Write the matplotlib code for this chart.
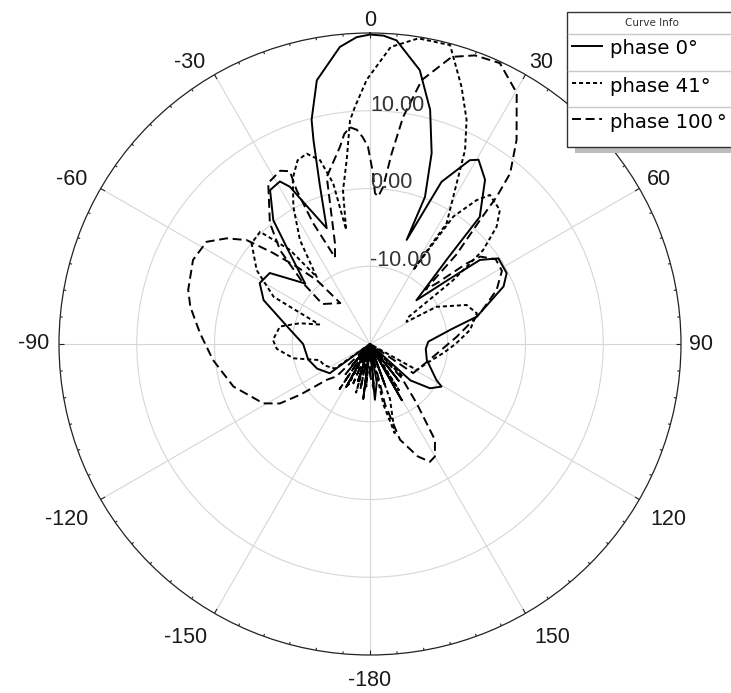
import numpy as np
import matplotlib
matplotlib.use('Agg')
import matplotlib.pyplot as plt
from matplotlib.lines import Line2D
from matplotlib.patches import Rectangle

# Radiation pattern: angle (deg, clockwise from top), gain (dB)
theta_p0 = [-180, -173, -168, -162, -157, -151, -146, -140, -134, -126, -115, -104,
            -90, -78, -67.6, -61.1, -54.7, -51.5, -47, -41.3, -38, -33, -29, -27,
            -24.4, -20.5, -17.5, -15.5, -14.6, -11.4, -5.8, -2.5, 0, 2.5, 5, 10.3, 14.4,
            17.9, 20.5, 19.4, 23.8, 28.5, 30.5, 35, 40.8, 42.2, 46.7, 50.6, 52.6, 56.3,
            62.6, 66.7, 75.6, 79.6, 87.7, 95, 105.8, 118.4, 120.8, 126.4, 132, 137,
            142, 146, 150.5, 155, 160, 165, 170, 175, 180]
gain_p0 = [-20, -12.9, -20, -15, -20, -13.7, -20, -16.5, -20, -13.6, -12.5, -11.8,
           -11.4, -9.1, -5.2, -3.8, -4.2, -6.4, -8.6, -4.2, 0.2, 3.6, 3.9, 2.7,
           -0.7, -4.1, 1.5, 7.2, 9.8, 14.6, 18.4, 19.5, 19.8, 19.7, 19.2, 15.8, 11.1,
           5.8, 0.2, -5.8, 2.8, 6.9, 7.5, 5.8, 1.6, -5.1, -11.8, -7, -2.2, -0.15,
           -0.2, -1.3, -5.8, -9.3, -12.5, -12.8, -12.4, -10.3, -9.3, -10.4, -13, -20,
           -14, -20, -11.7, -20, -14.5, -20, -15, -12.8, -20]

theta_p41 = [-180, -175, -170, -164, -159, -152, -147, -141, -135, -125, -115, -107.7,
             -100.6, -93, -87.6, -79, -73.5, -69, -63.9, -56.9, -49.6, -44.4, -40.4,
             -38.5, -34, -29.2, -25, -21.5, -18.4, -15.2, -12.9, -11.8, -10, -7.2,
             -5.1, -3.6, -0.7, 4, 9, 15, 19.6, 23.3, 26.1, 28.9, 32.4, 30.3, 33.2,
             36.5, 38.8, 44.1, 47.2, 50.3, 52.5, 55, 58.7, 60.8, 68, 74, 82, 90, 97,
             108.8, 119, 128, 135, 141, 148, 155, 160, 164.5, 167.5, 170, 175, 180]
gain_p41 = [-20, -14.5, -20, -13.5, -20, -14, -20, -15, -20, -14.5, -13.5, -13.2,
            -10, -8, -7.5, -8.2, -10.6, -13, -6.2, -2.6, 0, 0.2, -4.1,
            -9, -3.9, 0.2, 3.5, 5.4, 5.8, 4.5, 1.2, -5, 0, 3.9,
            8.9, 10.6, 14, 18.3, 19.8, 19.8, 15.1, 11.4, 7.8, 2.6, -1.6, -9, -0.4,
            3, 4.6, 4.0, 2.2, -1.1, -6.5, -14, -14.5, -10.2, -6.6, -5.7, -7, -9, -10.5,
            -12.3, -13.1, -20, -14, -20, -13, -20, -12.5, -8.1, -12, -20, -14.5, -20]

theta_p100 = [-180, -175, -168, -163, -157, -152, -146, -140, -134, -129.7, -126,
              -123.4, -119.1, -107.3, -95.8, -86.4, -78.3, -73.4, -64.6, -58, -53.6,
              -49.9, -46.8, -43.5, -39.8, -36, -50, -47.7, -43.8, -39.6, -32.3,
              -27.4, -24.9, -25.5, -25.2, -22, -19.2, -14.5, -8.6, -7, -5.3, -3.5,
              -2, -0.6, 1, 1.9, 3.2, 4.8, 6.5, 8.3, 11.1, 15.9, 20, 24.8, 30.3, 35.7,
              39.4, 40.7, 41.6, 44, 45.5, 47.7, 50.2, 51.6, 56, 61, 66.9, 74.4, 85.2,
              101.3, 124, 132, 137, 141.8, 145.9, 150, 153, 157, 162.6, 166, 170, 175, 180]
gain_p100 = [-16, -20, -14, -20, -14.5, -20, -13, -20, -14, -12.8, -8.9,
             -6.1, -4.3, -1.6, 0.3, 1.9, 3.6, 4.4, 5.2, 4.8, 2.9,
             0.75, -2.9, -6.3, -9.3, -13.5, -12, -8.4, -3.3, 0.2, 4.5,
             5.1, 4.5, 1.9, -2.8, -8, -6.3, 2.2, 5.7, 7.2, 8, 7.6,
             6.6, 5.4, 2, -0.6, -1, 0.3, 4.7, 9.5, 14.6, 18.4, 19.5, 19.8, 17.4, 12.3,
             8.4, 5, 1.3, -4, -10, -8.4, -3.8, -1.9, -0.5, -0.6, -2.3, -5.3, -8.8,
             -11.7, -13.3, -20, -14, -10.3, -5.1, -3.3, -3, -4.3, -7.1, -12, -20, -14, -16]

series_names = ['phase 0°', 'phase 41°', 'phase 100\u2009°']

r_min, r_max = -20, 20
ring_ticks = [-10, 0, 10]
ring_labels = ['-10.00', '0.00', '10.00']
angle_ticks = [0, 30, 60, 90, 120, 150, 180, -150, -120, -90, -60, -30]
angle_labels = ['0', '30', '60', '90', '120', '150', '-180', '-150', '-120', '-90', '-60', '-30']

# ── Style ──
TEXT = '#1a1a1a'
GRID = '#d6d6d6'
NUM_FONT = ['Liberation Sans', 'DejaVu Sans']
styles = ['-', (0, (2.1, 1.5)), (0, (4.6, 2.4))]

W, H = 731, 693
cx, cy, R = 370, 344, 311
fig = plt.figure(figsize=(W / 100, H / 100), dpi=100, facecolor='white')
ax = fig.add_axes([(cx - R) / W, (H - cy - R) / H, 2 * R / W, 2 * R / H], projection='polar')
ax.set_theta_zero_location('N')
ax.set_theta_direction(-1)

ax.set_yticks(ring_ticks)
ax.set_yticklabels([])
ax.set_xticks(np.radians(np.mod(angle_ticks, 360)))
ax.set_xticklabels([])
ax.grid(True, color=GRID, linewidth=0.8)
ax.spines['polar'].set_color('#222222')
ax.spines['polar'].set_linewidth(0.9)

curves = [(theta_p0, gain_p0), (theta_p41, gain_p41), (theta_p100, gain_p100)]
for (th, g), ls, name in zip(curves, styles, series_names):
    ax.plot(np.radians(th), np.clip(g, r_min, r_max), color='black', linewidth=1.4,
            linestyle=ls, label=name, zorder=3)

# rim ticks: every 5°, longer every 30° (length in dB units of the radial scale)
px_db = (r_max - r_min) / (2 * R)
for a in range(0, 360, 5):
    L = 10 if a % 30 == 0 else 5
    ax.plot([np.radians(a)] * 2, [r_max, r_max - L * px_db], color='#222222',
            linewidth=0.8, zorder=4, solid_capstyle='butt')

ax.set_thetalim(0, 2 * np.pi)
ax.set_ylim(r_min, r_max)

# ring value labels just right of the 0° spoke
for val, lab in zip(ring_ticks, ring_labels):
    ax.text(0, val, lab, ha='left', va='baseline', fontsize=15.5, family=NUM_FONT,
            color='#333333', zorder=4)

# angle labels outside the rim (offsets in px)
px = 0.72
label_pos = {
    0: (0, 13, 'center', 'center'), 30: (4, 7, 'left', 'baseline'),
    60: (8, 3.5, 'left', 'baseline'), 90: (8, 0, 'left', 'center'),
    120: (11, -20, 'left', 'center'), 150: (9, -24, 'left', 'center'),
    180: (0, -25, 'center', 'center'), -150: (-7, -24, 'right', 'center'),
    -120: (-12, -20, 'right', 'center'), -90: (-10, 0, 'right', 'center'),
    -60: (-13, 3.5, 'right', 'baseline'), -30: (-9.5, 7, 'right', 'baseline'),
}
for ang, lab in zip(angle_ticks, angle_labels):
    dx, dy, ha, va = label_pos[ang]
    ax.annotate(lab, xy=(np.radians(ang), r_max), xytext=(dx * px, dy * px),
                textcoords='offset points', ha=ha, va=va, fontsize=15.5,
                family=NUM_FONT, color=TEXT, annotation_clip=False)

# ── "Curve Info" legend box, drawn in pixel coordinates ──
ov = fig.add_axes([0, 0, 1, 1], zorder=10)
ov.set_xlim(0, W)
ov.set_ylim(H, 0)
ov.axis('off')
ov.add_patch(Rectangle((575, 147), 170, 6, facecolor='#bdbdbd', edgecolor='none'))
ov.add_patch(Rectangle((567, 12), 180, 135, facecolor='white', edgecolor='#333333', linewidth=1))
for ysep in [34, 70.5, 106.5]:
    ov.add_line(Line2D([567.5, 740], [ysep, ysep], color='#c8c8c8', linewidth=1))
ov.text(652, 23, 'Curve Info', ha='center', va='center', fontsize=7.5, color='#333333')
row_y = [49, 86, 122]
for yy, ls, name in zip(row_y, styles, series_names):
    ov.add_line(Line2D([572, 602], [yy - 3, yy - 3], color='black', linewidth=1.4, linestyle=ls))
    ov.text(610, yy, name, ha='left', va='center', fontsize=14.2, color='black')

fig.savefig('out.png', dpi=100, facecolor='white')
plt.close(fig)
